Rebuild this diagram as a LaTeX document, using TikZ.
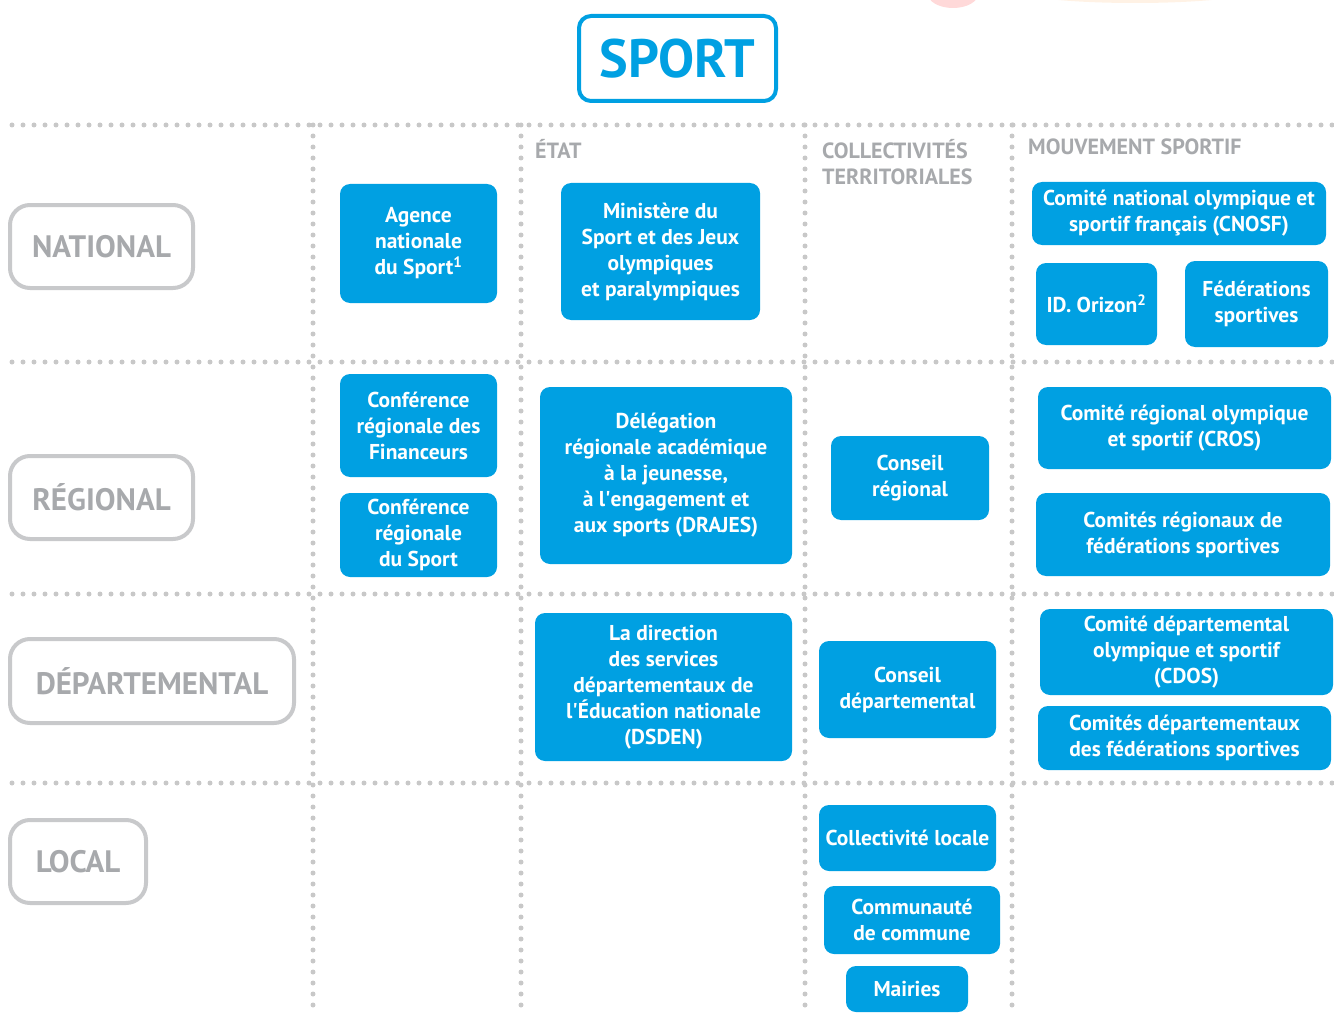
\documentclass[tikz,border=0pt]{standalone}
\usepackage{fontspec}
\setmainfont{PT Sans}
\usetikzlibrary{positioning}

\definecolor{sportblue}{RGB}{0,160,226}
\definecolor{lvlgray}{RGB}{200,201,203}
\definecolor{lvltext}{RGB}{167,169,172}
\definecolor{dotgray}{RGB}{200,200,200}

\tikzset{
  bluebox/.style={fill=sportblue, text=white, rounded corners=10pt, align=center,
    inner sep=0pt, font=\fontsize{21.5}{26}\selectfont\bfseries},
  levelbox/.style={draw=lvlgray, line width=4pt, rounded corners=20pt, text=lvltext,
    inner sep=0pt, font=\fontsize{31}{36}\selectfont\bfseries},
  colhead/.style={anchor=north west, inner sep=0pt, align=left, text=lvltext,
    font=\fontsize{22}{26}\selectfont\bfseries},
  dotline/.style={dotgray, line width=5pt, line cap=round, dash pattern=on 0pt off 11pt}
}

\begin{document}
\begin{tikzpicture}[x=1pt,y=-1pt]
\useasboundingbox (0,0) rectangle (1334,1014);

% decoration cut at the top
\fill[red!15!white] (953,-6) ellipse (25 and 14);
\fill[orange!10!white] (1135,-10) ellipse (120 and 13);

% grid
\foreach \yy in {125,362,594,783}
  \draw[dotline] (12,\yy) -- (1334,\yy);
\foreach \xx in {313,521,805,1012}
  \draw[dotline] (\xx,125) -- (\xx,1014);

% title
\node[draw=sportblue, line width=4pt, rounded corners=12pt, text=sportblue,
  minimum width=197pt, minimum height=85pt, inner sep=0pt,
  font=\fontsize{54}{60}\selectfont\bfseries] (sport) at (677.5,58.5) {SPORT};

% column heads
\node[colhead] (etat) at (535,139) {ÉTAT};
\node[colhead] (collect) at (822,139) {COLLECTIVITÉS\\TERRITORIALES};
\node[colhead] (mouvement) at (1028,139) {MOUVEMENT SPORTIF};

% levels
\node[levelbox, minimum width=183pt, minimum height=83pt] (national) at (101.5,246.5) {NATIONAL};
\node[levelbox, minimum width=183pt, minimum height=83pt] (regional) at (101.5,497.5) {RÉGIONAL};
\node[levelbox, minimum width=284pt, minimum height=84pt] (departemental) at (152,681) {DÉPARTEMENTAL};
\node[levelbox, minimum width=136pt, minimum height=83pt] (local) at (78,861.5) {LOCAL};

% national
\node[bluebox, minimum width=157pt, minimum height=119pt] (ans) at (418.5,243.5) {Agence\\nationale\\du Sport\textsuperscript{1}};
\node[bluebox, minimum width=199pt, minimum height=137pt] (ministere) at (660.5,251.5) {Ministère du\\Sport et des Jeux\\olympiques\\et paralympiques};
\node[bluebox, minimum width=294pt, minimum height=63pt] (cnosf) at (1179,213.5) {Comité national olympique et\\sportif français (CNOSF)};
\node[bluebox, minimum width=121pt, minimum height=82pt] (orizon) at (1096.5,304) {ID. Orizon\textsuperscript{2}};
\node[bluebox, minimum width=143pt, minimum height=86pt] (federations) at (1256.5,304) {Fédérations\\sportives};

% regional
\node[bluebox, minimum width=157pt, minimum height=103pt] (crfin) at (418.5,425.5) {Conférence\\régionale des\\Financeurs};
\node[bluebox, minimum width=157pt, minimum height=84pt] (crsport) at (418.5,535) {Conférence\\régionale\\du Sport};
\node[bluebox, minimum width=252pt, minimum height=177pt] (drajes) at (666,475.5) {Délégation\\régionale académique\\à la jeunesse,\\à l\textquotesingle engagement et\\aux sports (DRAJES)};
\node[bluebox, minimum width=158pt, minimum height=84pt] (creg) at (910,478) {Conseil\\régional};
\node[bluebox, minimum width=293pt, minimum height=82pt] (cros) at (1184.5,428) {Comité régional olympique\\et sportif (CROS)};
\node[bluebox, minimum width=294pt, minimum height=83pt] (crfed) at (1183,534.5) {Comités régionaux de\\fédérations sportives};

% departemental
\node[bluebox, minimum width=257pt, minimum height=148pt] (dsden) at (663.5,687) {La direction\\des services\\départementaux de\\l\textquotesingle Éducation nationale\\(DSDEN)};
\node[bluebox, minimum width=177pt, minimum height=97pt] (cdep) at (907.5,689.5) {Conseil\\départemental};
\node[bluebox, minimum width=293pt, minimum height=86pt] (cdos) at (1186.5,652) {Comité départemental\\olympique et sportif\\(CDOS)};
\node[bluebox, minimum width=293pt, minimum height=64pt] (cdfed) at (1184.5,738) {Comités départementaux\\des fédérations sportives};

% local
\node[bluebox, minimum width=177pt, minimum height=66pt] (cloc) at (907.5,838) {Collectivité locale};
\node[bluebox, minimum width=176pt, minimum height=68pt] (ccom) at (912,920) {Communauté\\de commune};
\node[bluebox, minimum width=122pt, minimum height=46pt] (mairies) at (907,989) {Mairies};

\end{tikzpicture}
\end{document}
